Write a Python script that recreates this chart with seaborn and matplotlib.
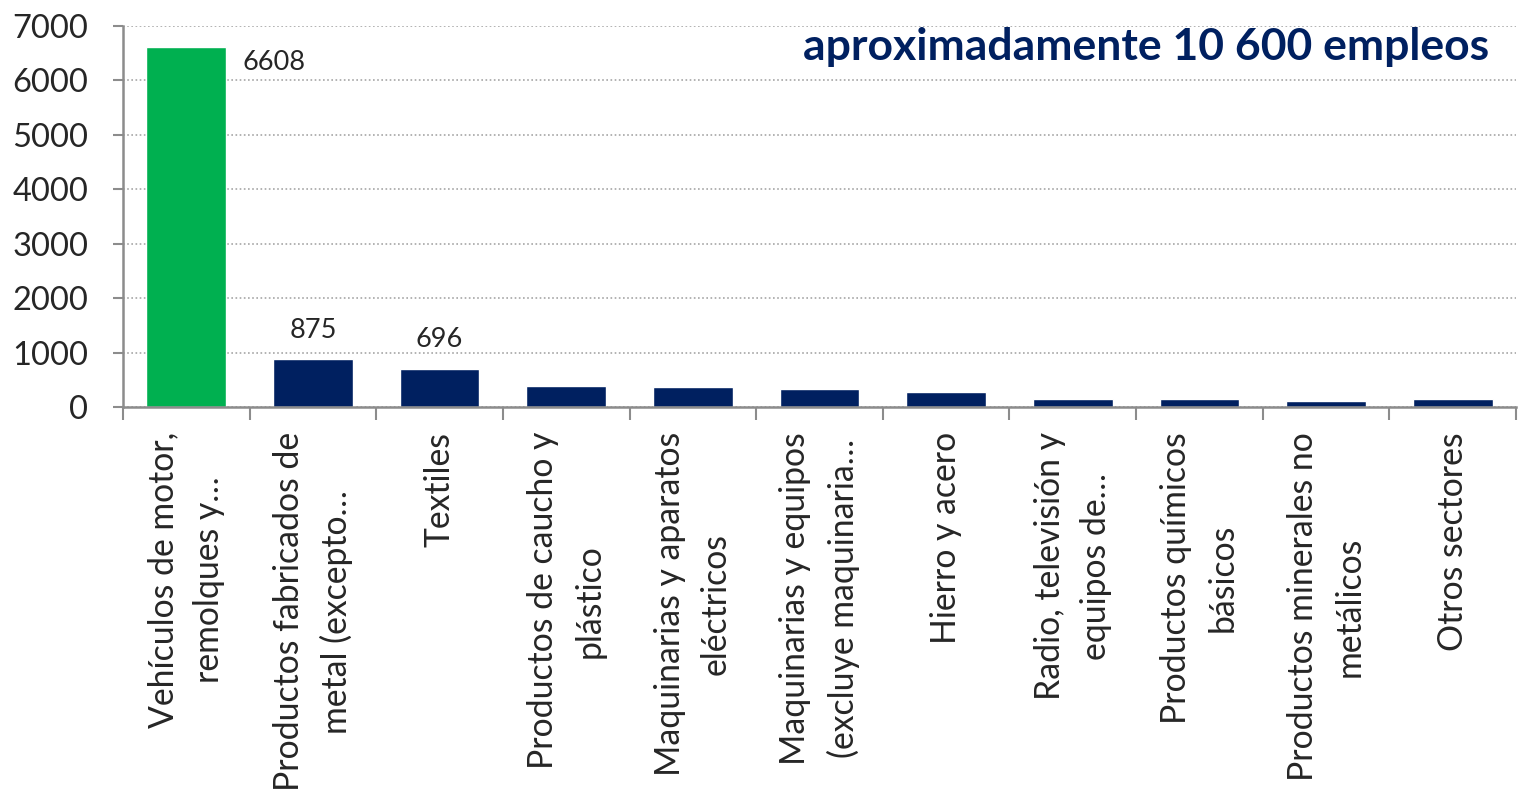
import numpy as np
import pandas as pd
import seaborn as sns
import matplotlib.pyplot as plt
from matplotlib.ticker import FixedLocator

# Data
sectores = ["Vehículos de motor,\nremolques y…",
            "Productos fabricados de\nmetal (excepto…",
            "Textiles",
            "Productos de caucho y\nplástico",
            "Maquinarias y aparatos\neléctricos",
            "Maquinarias y equipos\n(excluye maquinaria…",
            "Hierro y acero",
            "Radio, televisión y\nequipos de…",
            "Productos químicos\nbásicos",
            "Productos minerales no\nmetálicos",
            "Otros sectores"]
empleos = [6608, 875, 696, 390, 365, 335, 285, 152, 148, 108, 152]
etiquetas = {0: "6608", 1: "875", 2: "696"}
colores = ["#00B050"] + ["#002060"] * 10

df = pd.DataFrame({"sector": sectores, "empleos": empleos})

sns.set_style("white")
plt.rcParams["font.family"] = ["Lato", "DejaVu Sans"]

fig = plt.figure(figsize=(15.18, 7.97), dpi=100)
ax = fig.add_axes([0.081, 0.4893, 0.9177, 0.4781])

sns.barplot(data=df, x="sector", y="empleos", hue="sector", palette=colores,
            legend=False, width=0.63, saturation=1, ax=ax)

ax.set_ylim(0, 7000)
ax.set_xlim(-0.5, len(sectores) - 0.5)
ax.set_yticks(np.arange(0, 7001, 1000))
ax.set_xlabel("")
ax.set_ylabel("")

# grid
ax.yaxis.grid(True, linestyle=(0, (1, 1.5)), color="#a6a6a6", linewidth=1.2)
ax.set_axisbelow(True)

# spines
for s in ["top", "right"]:
    ax.spines[s].set_visible(False)
for s in ["left", "bottom"]:
    ax.spines[s].set_color("#8c8c8c")
    ax.spines[s].set_linewidth(1.8)

# ticks
ax.tick_params(axis="y", length=7, width=1.5, color="#8c8c8c", pad=18,
               labelsize=23.5, direction="out", left=True)
ax.xaxis.set_minor_locator(FixedLocator(np.arange(-0.5, len(sectores), 1)))
ax.tick_params(axis="x", which="minor", length=9.5, width=1.5,
               color="#8c8c8c", direction="out", bottom=True)
ax.tick_params(axis="x", which="major", length=0, pad=18)
ax.set_xticks(range(len(sectores)))
ax.set_xticklabels(sectores, rotation=90, fontsize=24.3, ha="center",
                   va="top", multialignment="center", linespacing=1.55)

# value labels
for i, txt in etiquetas.items():
    if i == 0:
        ax.annotate(txt, xy=(0.31, empleos[i]), xytext=(12, -2),
                    textcoords="offset points", ha="left", va="top",
                    fontsize=19.5)
    else:
        ax.annotate(txt, xy=(i, empleos[i]), xytext=(0, 12),
                    textcoords="offset points", ha="center", va="bottom",
                    fontsize=19.5)

ax.text(0.981, 0.945, "aproximadamente 10 600 empleos", transform=ax.transAxes,
        ha="right", va="center", fontsize=32, fontweight="bold",
        color="#002060")

plt.savefig("out.png", dpi=100)
